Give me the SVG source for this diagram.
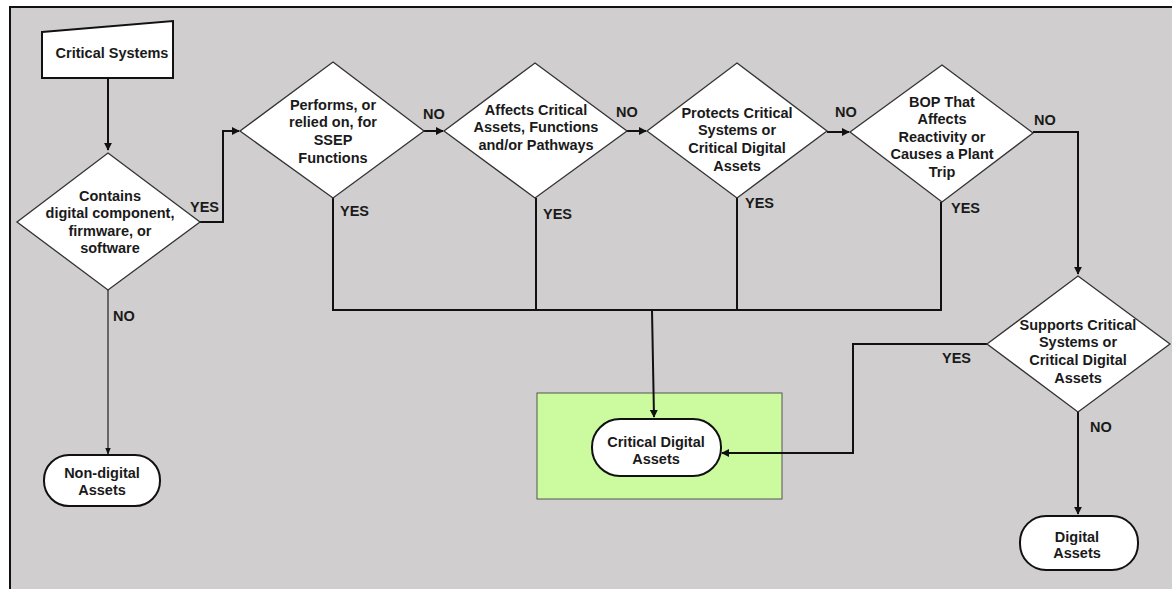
<svg xmlns="http://www.w3.org/2000/svg" width="1172" height="589" viewBox="0 0 1172 589">
<style>
text{font-family:"Liberation Sans",Arial,sans-serif;font-weight:bold;font-size:14.5px;fill:#1a1a1a;text-anchor:middle}
.lbl{text-anchor:start}
.dia{fill:#fff;stroke:#333;stroke-width:1.3}
.term{fill:#fff;stroke:#111;stroke-width:2}
.con{fill:none;stroke:#111;stroke-width:2}
.thin{fill:none;stroke:#222;stroke-width:1.2}
</style>
<defs>
<marker id="ah" viewBox="0 0 10 10" refX="9" refY="5" markerWidth="4" markerHeight="4" orient="auto"><path d="M0,0L10,5L0,10z" fill="#111"/></marker>
<marker id="ah2" viewBox="0 0 10 10" refX="9" refY="5" markerWidth="6" markerHeight="6" orient="auto"><path d="M0,1L10,5L0,9z" fill="#111"/></marker>
</defs>
<rect x="0" y="0" width="1172" height="589" fill="#fff"/>
<rect x="10" y="7" width="1170" height="590" fill="#d0cece" stroke="#111" stroke-width="2"/>

<g id="cda-box">
<rect x="537" y="393" width="245" height="106" fill="#ccfa9f" stroke="#555" stroke-width="1"/>
</g>

<g id="connectors">
<path class="con" d="M108,78V150" marker-end="url(#ah)"/>
<path class="con" d="M200,222H223V131H239" marker-end="url(#ah)"/>
<path class="con" d="M424,131H443" marker-end="url(#ah)"/>
<path class="con" d="M627,131H646" marker-end="url(#ah)"/>
<path class="con" d="M827,132H849" marker-end="url(#ah)"/>
<path class="con" d="M1033,132H1078V274" marker-end="url(#ah)"/>
<path class="thin" d="M108,290V454" marker-end="url(#ah2)"/>
<path class="con" d="M333,198V310H941V202"/>
<path class="con" d="M536,198V310"/>
<path class="con" d="M737,198V310"/>
<path class="con" d="M652,310L654,417" marker-end="url(#ah)"/>
<path class="con" d="M987,344H853V453H722" marker-end="url(#ah)"/>
<path class="con" d="M1078,412V514" marker-end="url(#ah)"/>
<text class="lbl" x="190" y="212">YES</text>
<text class="lbl" x="423" y="119">NO</text>
<text class="lbl" x="616" y="117">NO</text>
<text class="lbl" x="835" y="117">NO</text>
<text class="lbl" x="1034" y="125">NO</text>
<text class="lbl" x="340" y="216">YES</text>
<text class="lbl" x="543" y="219">YES</text>
<text class="lbl" x="745" y="208">YES</text>
<text class="lbl" x="951" y="213">YES</text>
<text class="lbl" x="113" y="321">NO</text>
<text class="lbl" x="942" y="363">YES</text>
<text class="lbl" x="1090" y="432">NO</text>
</g>

<g id="critical-systems">
<path d="M42,32L173,21V78H42Z" fill="#fff" stroke="#111" stroke-width="2"/>
<text x="112" y="58">Critical Systems</text>
</g>

<g id="contains-digital">
<path class="dia" d="M108,153L200,222L108,290L17,222Z"/>
<text x="110" y="201">Contains</text>
<text x="110" y="218">digital component,</text>
<text x="110" y="236">firmware, or</text>
<text x="110" y="253">software</text>
</g>

<g id="performs-ssep">
<path class="dia" d="M333,62L424,131L333,198L240,131Z"/>
<text x="333" y="110">Performs, or</text>
<text x="333" y="127">relied on, for</text>
<text x="333" y="145">SSEP</text>
<text x="333" y="163">Functions</text>
</g>

<g id="affects-critical">
<path class="dia" d="M535,63L627,131L535,198L444,131Z"/>
<text x="536" y="115">Affects Critical</text>
<text x="536" y="132">Assets, Functions</text>
<text x="536" y="150">and/or Pathways</text>
</g>

<g id="protects-critical">
<path class="dia" d="M737,63L827,131L737,198L647,131Z"/>
<text x="737" y="118">Protects Critical</text>
<text x="737" y="135">Systems or</text>
<text x="737" y="153">Critical Digital</text>
<text x="737" y="171">Assets</text>
</g>

<g id="bop">
<path class="dia" d="M942,65L1033,133L942,202L850,132Z"/>
<text x="942" y="107">BOP That</text>
<text x="942" y="124">Affects</text>
<text x="942" y="142">Reactivity or</text>
<text x="942" y="159">Causes a Plant</text>
<text x="942" y="177">Trip</text>
</g>

<g id="supports-critical">
<path class="dia" d="M1078,276L1170,344L1078,412L987,344Z"/>
<text x="1078" y="330">Supports Critical</text>
<text x="1078" y="347">Systems or</text>
<text x="1078" y="365">Critical Digital</text>
<text x="1078" y="383">Assets</text>
</g>

<g id="critical-digital-assets">
<rect class="term" x="592" y="419" width="129" height="57" rx="28"/>
<text x="656" y="447">Critical Digital</text>
<text x="656" y="464">Assets</text>
</g>

<g id="non-digital-assets">
<rect class="term" x="44" y="455" width="116" height="51" rx="25"/>
<text x="102" y="478">Non-digital</text>
<text x="102" y="495">Assets</text>
</g>

<g id="digital-assets">
<rect class="term" x="1020" y="516" width="118" height="54" rx="26"/>
<text x="1077" y="542">Digital</text>
<text x="1077" y="558">Assets</text>
</g>
</svg>
